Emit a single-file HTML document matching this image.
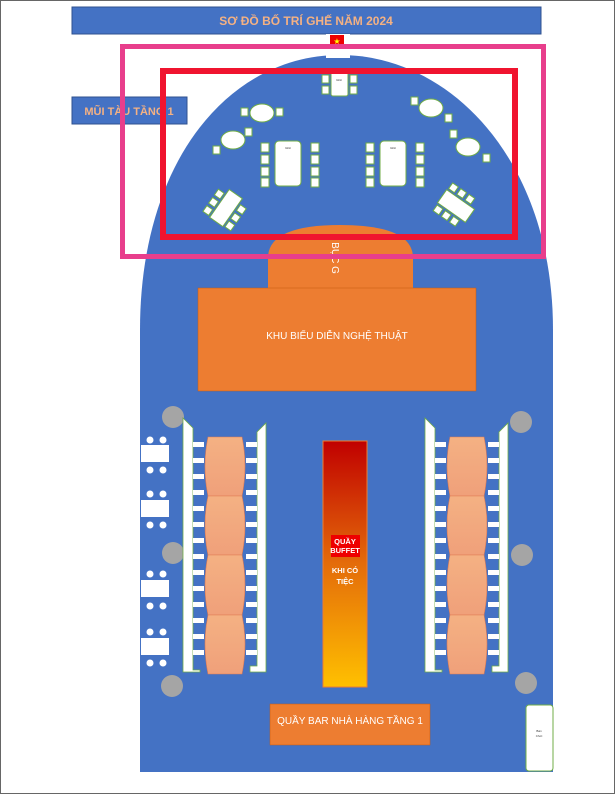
<!DOCTYPE html>
<html><head><meta charset="utf-8"><style>
html,body{margin:0;padding:0;background:#fff;}
svg{display:block;font-family:"Liberation Sans",sans-serif;}
</style></head><body>
<svg width="616" height="795" viewBox="0 0 616 795" xmlns="http://www.w3.org/2000/svg">
<defs>
<linearGradient id="bf" x1="0" y1="0" x2="0" y2="1"><stop offset="0" stop-color="#c00000"/><stop offset="0.5" stop-color="#e46c0a"/><stop offset="1" stop-color="#ffc000"/></linearGradient>
<linearGradient id="pk" x1="0" y1="0" x2="0" y2="1"><stop offset="0" stop-color="#f4b183"/><stop offset="1" stop-color="#f0a07a"/></linearGradient>
</defs>
<rect x="0.5" y="0.5" width="614" height="793" fill="#fff" stroke="#666"/>
<!-- header -->
<rect x="72" y="7" width="469" height="27" fill="#4472c4" stroke="#2f528f"/>
<text x="306" y="25" text-anchor="middle" font-size="12" font-weight="bold" fill="#f4b183">SƠ ĐỒ BỐ TRÍ GHẾ  NĂM 2024</text>
<rect x="72" y="97" width="115" height="27" fill="#4472c4" stroke="#2f528f"/>
<text x="129" y="115" text-anchor="middle" font-size="11" font-weight="bold" fill="#f4b183">MŨI TÀU TẦNG 1</text>
<!-- ship -->
<path d="M140,772 L140,330 C140,160 230,55 340,55 C450,55 553,160 553,330 L553,772 Z" fill="#4472c4"/>
<rect x="326" y="34" width="24" height="24" fill="#fff"/>
<rect x="330" y="35" width="14" height="10" fill="#e00"/>
<text x="337" y="44" text-anchor="middle" font-size="8" fill="#ff0">★</text>
<!-- top tables -->
<g fill="#fff" stroke="#70ad47" stroke-width="1">
<rect x="322" y="75" width="7" height="8"/><rect x="322" y="86" width="7" height="8"/>
<rect x="350" y="75" width="7" height="8"/><rect x="350" y="86" width="7" height="8"/>
<rect x="331" y="72" width="17" height="24" rx="2"/>
<ellipse cx="262" cy="113" rx="12" ry="9"/><rect x="241" y="108" width="7" height="8"/><rect x="276" y="108" width="7" height="8"/>
<ellipse cx="233" cy="140" rx="12" ry="9"/><rect x="245" y="128" width="7" height="8"/><rect x="213" y="146" width="7" height="8"/>
<ellipse cx="431" cy="108" rx="12" ry="9"/><rect x="411" y="97" width="7" height="8"/><rect x="445" y="114" width="7" height="8"/>
<ellipse cx="468" cy="147" rx="12" ry="9"/><rect x="450" y="130" width="7" height="8"/><rect x="483" y="154" width="7" height="8"/>
<rect x="275" y="141" width="26" height="45" rx="4"/>
<rect x="261" y="143" width="8" height="9"/><rect x="261" y="155" width="8" height="9"/><rect x="261" y="167" width="8" height="9"/><rect x="261" y="178" width="8" height="9"/>
<rect x="311" y="143" width="8" height="9"/><rect x="311" y="155" width="8" height="9"/><rect x="311" y="167" width="8" height="9"/><rect x="311" y="178" width="8" height="9"/>
<rect x="380" y="141" width="26" height="45" rx="4"/>
<rect x="366" y="143" width="8" height="9"/><rect x="366" y="155" width="8" height="9"/><rect x="366" y="167" width="8" height="9"/><rect x="366" y="178" width="8" height="9"/>
<rect x="416" y="143" width="8" height="9"/><rect x="416" y="155" width="8" height="9"/><rect x="416" y="167" width="8" height="9"/><rect x="416" y="178" width="8" height="9"/>
<g transform="translate(226,208) rotate(-55)">
<rect x="-17" y="-8" width="34" height="16"/>
<rect x="-16" y="-17" width="7" height="7"/><rect x="-6" y="-17" width="7" height="7"/><rect x="4" y="-17" width="7" height="7"/>
<rect x="-16" y="10" width="7" height="7"/><rect x="-6" y="10" width="7" height="7"/><rect x="4" y="10" width="7" height="7"/>
</g>
<g transform="translate(456,206) rotate(35)">
<rect x="-17" y="-8" width="34" height="16"/>
<rect x="-16" y="-17" width="7" height="7"/><rect x="-6" y="-17" width="7" height="7"/><rect x="4" y="-17" width="7" height="7"/>
<rect x="-16" y="10" width="7" height="7"/><rect x="-6" y="10" width="7" height="7"/><rect x="4" y="10" width="7" height="7"/>
</g>
</g>
<g font-size="3" fill="#333" text-anchor="middle"><text x="339" y="81">Ghế</text><text x="288" y="149">Ghế</text><text x="393" y="149">Ghế</text></g>
<!-- stage -->
<path d="M268,288 L268,258 Q268,225 340,225 Q413,225 413,258 L413,288 Z" fill="#ed7d31"/>
<text x="0" y="0" transform="translate(332,258) rotate(90)" font-size="10" fill="#fff" text-anchor="middle">BỤC G</text>
<rect x="198" y="288" width="278" height="103" fill="#ed7d31" stroke="#c55a11" stroke-width="0.5"/>
<text x="337" y="339" text-anchor="middle" font-size="10" fill="#fff">KHU BIỂU DIỄN NGHỆ THUẬT</text>
<!-- buffet -->
<rect x="323" y="441" width="44" height="246" fill="url(#bf)" stroke="#ed7d31"/>
<rect x="331" y="535" width="29" height="22" fill="#e00"/>
<g font-size="7.5" font-weight="bold" fill="#fff" text-anchor="middle"><text x="345" y="544">QUẦY</text><text x="345" y="553">BUFFET</text><text x="345" y="573">KHI CÓ</text><text x="345" y="584">TIỆC</text></g>
<!-- bar -->
<rect x="270" y="704" width="160" height="41" fill="#ed7d31" stroke="#c55a11" stroke-width="0.5"/>
<text x="350" y="724" text-anchor="middle" font-size="10" fill="#fff">QUẦY BAR NHÀ HÀNG TẦNG 1</text>
<rect x="526" y="705" width="27" height="66" rx="3" fill="#fff" stroke="#70ad47"/>
<text x="539" y="732" text-anchor="middle" font-size="3" fill="#333">Bàn</text><text x="539" y="737" text-anchor="middle" font-size="3" fill="#333">Chơi</text>
<!-- gray circles -->
<g fill="#a5a5a5"><circle cx="173" cy="417" r="11"/><circle cx="173" cy="553" r="11"/><circle cx="172" cy="686" r="11"/><circle cx="521" cy="422" r="11"/><circle cx="522" cy="555" r="11"/><circle cx="526" cy="683" r="11"/></g>
<!-- left small tables -->
<g fill="#fff">
<rect x="141" y="445" width="28" height="17"/><circle cx="150" cy="440" r="3.5"/><circle cx="163" cy="440" r="3.5"/><circle cx="150" cy="470" r="3.5"/><circle cx="163" cy="470" r="3.5"/>
<rect x="141" y="500" width="28" height="17"/><circle cx="150" cy="494" r="3.5"/><circle cx="163" cy="494" r="3.5"/><circle cx="150" cy="525" r="3.5"/><circle cx="163" cy="525" r="3.5"/>
<rect x="141" y="580" width="28" height="17"/><circle cx="150" cy="574" r="3.5"/><circle cx="163" cy="574" r="3.5"/><circle cx="150" cy="606" r="3.5"/><circle cx="163" cy="606" r="3.5"/>
<rect x="141" y="638" width="28" height="17"/><circle cx="150" cy="632" r="3.5"/><circle cx="163" cy="632" r="3.5"/><circle cx="150" cy="663" r="3.5"/><circle cx="163" cy="663" r="3.5"/>
</g>
<!-- long tables -->
<g id="col">
<path d="M183,418 L193,428 L193,670 L200,670 L200,672 L183,672 Z" fill="#fff" stroke="#70ad47" stroke-width="0.8"/>
<path d="M266,423 L266,672 L250,672 L250,666 L257,666 L257,432 Z" fill="#fff" stroke="#70ad47" stroke-width="0.8"/>
<g fill="#fff">
<rect x="193" y="442" width="11" height="5"/><rect x="193" y="458" width="11" height="5"/><rect x="193" y="474" width="11" height="5"/><rect x="193" y="490" width="11" height="5"/><rect x="193" y="506" width="11" height="5"/><rect x="193" y="522" width="11" height="5"/><rect x="193" y="538" width="11" height="5"/><rect x="193" y="554" width="11" height="5"/><rect x="193" y="570" width="11" height="5"/><rect x="193" y="586" width="11" height="5"/><rect x="193" y="602" width="11" height="5"/><rect x="193" y="618" width="11" height="5"/><rect x="193" y="634" width="11" height="5"/><rect x="193" y="650" width="11" height="5"/>
<rect x="246" y="442" width="11" height="5"/><rect x="246" y="458" width="11" height="5"/><rect x="246" y="474" width="11" height="5"/><rect x="246" y="490" width="11" height="5"/><rect x="246" y="506" width="11" height="5"/><rect x="246" y="522" width="11" height="5"/><rect x="246" y="538" width="11" height="5"/><rect x="246" y="554" width="11" height="5"/><rect x="246" y="570" width="11" height="5"/><rect x="246" y="586" width="11" height="5"/><rect x="246" y="602" width="11" height="5"/><rect x="246" y="618" width="11" height="5"/><rect x="246" y="634" width="11" height="5"/><rect x="246" y="650" width="11" height="5"/>
</g>
<g fill="url(#pk)" stroke="#e07b52" stroke-width="0.6">
<path d="M208,437 L242,437 Q248,466 242,496 L208,496 Q202,466 208,437 Z"/>
<path d="M208,496 L242,496 Q248,525 242,555 L208,555 Q202,525 208,496 Z"/>
<path d="M208,555 L242,555 Q248,585 242,615 L208,615 Q202,585 208,555 Z"/>
<path d="M208,615 L242,615 Q248,644 242,674 L208,674 Q202,644 208,615 Z"/>
</g>
</g>
<use href="#col" transform="translate(242,0)"/>
<!-- highlight boxes -->
<rect x="122.5" y="46.5" width="421" height="210" fill="none" stroke="#e83e8c" stroke-width="5"/>
<rect x="163" y="71" width="352" height="166" fill="none" stroke="#f0142f" stroke-width="6"/>
</svg>
</body></html>
